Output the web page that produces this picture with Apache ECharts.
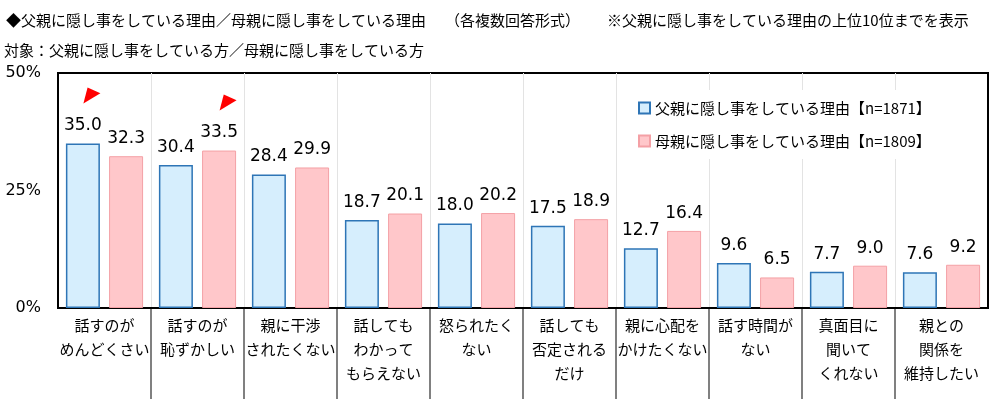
<!DOCTYPE html>
<html>
<head>
<meta charset="utf-8">
<script src="https://cdn.jsdelivr.net/npm/echarts@6/dist/echarts.min.js"></script>
<style>html,body{margin:0;padding:0;background:#fff;}#c{width:1000px;height:399px;}</style>
</head>
<body>
<div id="c"></div>
<script>
var categories = ['話すのが\nめんどくさい', '話すのが\n恥ずかしい', '親に干渉\nされたくない', '話しても\nわかって\nもらえない', '怒られたく\nない', '話しても\n否定される\nだけ', '親に心配を\nかけたくない', '話す時間が\nない', '真面目に\n聞いて\nくれない', '親との\n関係を\n維持したい'];
var fatherValues = [35.0, 30.4, 28.4, 18.7, 18.0, 17.5, 12.7, 9.6, 7.7, 7.6];
var motherValues = [32.3, 33.5, 29.9, 20.1, 20.2, 18.9, 16.4, 6.5, 9.0, 9.2];
var seriesNames = ['父親に隠し事をしている理由【n=1871】', '母親に隠し事をしている理由【n=1809】'];
var yTicks = { min: 0, max: 50, interval: 25 };
var titleLine1 = '◆父親に隠し事をしている理由／母親に隠し事をしている理由';
var titleLine1b = '（各複数回答形式）';
var titleLine1c = '※父親に隠し事をしている理由の上位10位までを表示';
var titleLine2 = '対象：父親に隠し事をしている方／母親に隠し事をしている方';

var JP = '"Noto Sans CJK JP", sans-serif';
var NUM = '"DejaVu Sans", sans-serif';
var tStyle = { fontSize: 15, fontWeight: 'normal', color: '#000', fontFamily: JP, lineHeight: 20 };

var arrowPath = 'path://M12,0L49,16L0,45Z';
function maxMarker() {
  return {
    symbol: arrowPath,
    symbolSize: [17, 16],
    symbolOffset: [9, -48],
    itemStyle: { color: '#ff0000' },
    label: { show: false },
    data: [{ type: 'max' }]
  };
}

var chart = echarts.init(document.getElementById('c'));
chart.setOption({
  animation: false,
  backgroundColor: '#fff',
  title: [
    { text: titleLine1, left: 6, top: 10, padding: 0, textStyle: tStyle },
    { text: titleLine1b, left: 445, top: 10, padding: 0, textStyle: tStyle },
    { text: titleLine1c, left: 607, top: 10, padding: 0, textStyle: tStyle },
    { text: titleLine2, left: 4, top: 40, padding: 0, textStyle: tStyle }
  ],
  legend: {
    orient: 'vertical',
    left: 622,
    top: 90,
    padding: [8, 14, 8, 16],
    backgroundColor: '#fff',
    itemWidth: 11,
    itemHeight: 11,
    itemGap: 13,
    icon: 'rect',
    textStyle: { fontSize: 15, color: '#000', fontFamily: JP, lineHeight: 20 },
    data: seriesNames
  },
  grid: [
    { left: 58, right: 12, top: 73, bottom: 91, show: true, borderColor: '#000', borderWidth: 2, containLabel: false },
    { left: 58, right: 12, top: 309, bottom: 0, show: false }
  ],
  xAxis: [
    {
      type: 'category',
      gridIndex: 0,
      data: categories,
      boundaryGap: true,
      axisLine: { show: true, lineStyle: { color: '#000', width: 2 } },
      axisTick: { show: false },
      splitLine: { show: true, interval: 0, showMinLine: false, showMaxLine: false, lineStyle: { color: '#e3e3e3', width: 1 } },
      axisLabel: { interval: 0, margin: 5, fontSize: 15, lineHeight: 24, color: '#000', fontFamily: JP }
    },
    {
      type: 'category',
      gridIndex: 1,
      data: categories,
      boundaryGap: true,
      axisLine: { show: false },
      axisTick: { show: false },
      axisLabel: { show: false, interval: 0 },
      splitLine: { show: true, interval: 0, showMinLine: false, showMaxLine: false, lineStyle: { color: '#808080', width: 2 } }
    }
  ],
  yAxis: [
    {
      type: 'value',
      gridIndex: 0,
      min: yTicks.min,
      max: yTicks.max,
      interval: yTicks.interval,
      axisLine: { show: true, lineStyle: { color: '#000', width: 2 } },
      axisTick: { show: false },
      splitLine: { show: false },
      axisLabel: { formatter: '{value}%', fontSize: 16, color: '#000', fontFamily: NUM, margin: 17 }
    },
    { type: 'value', gridIndex: 1, show: false, splitLine: { show: false } }
  ],
  series: [
    {
      name: seriesNames[0],
      type: 'bar',
      xAxisIndex: 0,
      yAxisIndex: 0,
      data: fatherValues,
      barWidth: 34,
      barGap: '27%',
      itemStyle: { color: '#d6eefd', borderColor: '#2e75b6', borderWidth: 1.5 },
      label: { show: true, position: 'top', distance: 9, fontSize: 17, color: '#000', fontFamily: NUM,
        formatter: function (p) { return p.value.toFixed(1); } },
      markPoint: maxMarker()
    },
    {
      name: seriesNames[1],
      type: 'bar',
      xAxisIndex: 0,
      yAxisIndex: 0,
      data: motherValues,
      barWidth: 34,
      barGap: '27%',
      itemStyle: { color: '#ffc7ca', borderColor: '#f4a0a5', borderWidth: 1 },
      label: { show: true, position: 'top', distance: 9, fontSize: 17, color: '#000', fontFamily: NUM,
        formatter: function (p) { return p.value.toFixed(1); } },
      markPoint: maxMarker()
    }
  ]
});
</script>
</body>
</html>
